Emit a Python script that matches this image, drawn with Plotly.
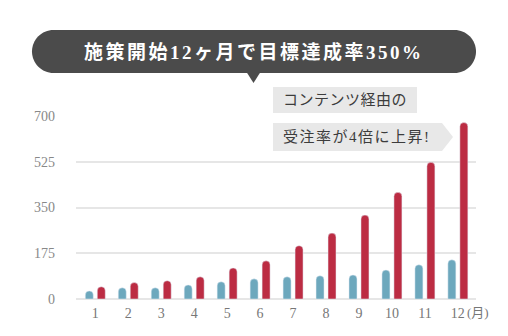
import plotly.graph_objects as go

# Monthly orders: all channels (blue) vs. via content (red)
months = [1, 2, 3, 4, 5, 6, 7, 8, 9, 10, 11, 12]
month_labels = ["1", "2", "3", "4", "5", "6", "7", "8", "9", "10", "11", "12"]
other_orders = [31, 43, 43, 54, 66, 77, 85, 89, 92, 111, 131, 150]
content_orders = [47, 63, 70, 85, 119, 146, 204, 252, 321, 408, 523, 675]
y_ticks = [0, 175, 350, 525, 700]

title_text = "施策開始12ヶ月で目標達成率350%"
callout_line1 = "コンテンツ経由の"
callout_line2 = "受注率が4倍に上昇!"

W, H = 508, 336
L, R, T, B = 76, 32, 116, 37
PW, PH = W - L - R, H - T - B

SERIF = "Liberation Serif, DejaVu Serif, Noto Sans CJK JP, serif"


def fx(px):
    return (px - L) / PW


def fy(py):
    return (H - B - py) / PH


def path(points, close=True):
    parts = []
    for cmd, pts in points:
        coords = " ".join(f"{fx(x):.5f},{fy(y):.5f}" for x, y in pts)
        parts.append(f"{cmd} {coords}")
    return " ".join(parts) + (" Z" if close else "")


fig = go.Figure()
fig.add_trace(go.Bar(x=months, y=other_orders, marker_color="#6da8bd",
                     width=8 / 33, offset=-10 / 33, hoverinfo="skip"))
fig.add_trace(go.Bar(x=months, y=content_orders, marker_color="#bc2c43",
                     width=8 / 33, offset=2 / 33, hoverinfo="skip"))

shapes = []
# dark speech pill with pointer
x0, x1, y0, y1 = 32, 476, 30, 73
r = (y1 - y0) / 2
cy = (y0 + y1) / 2
k = 0.5523 * r
pill = path([
    ("M", [(x0 + r, y0)]),
    ("L", [(x1 - r, y0)]),
    ("C", [(x1 - r + k, y0), (x1, cy - k), (x1, cy)]),
    ("C", [(x1, cy + k), (x1 - r + k, y1), (x1 - r, y1)]),
    ("L", [(x0 + r, y1)]),
    ("C", [(x0 + r - k, y1), (x0, cy + k), (x0, cy)]),
    ("C", [(x0, cy - k), (x0 + r - k, y0), (x0 + r, y0)]),
])
shapes.append(dict(type="path", xref="paper", yref="paper", path=pill,
                   fillcolor="#4b4b4b", line=dict(width=0), layer="above"))
shapes.append(dict(type="path", xref="paper", yref="paper",
                   path=path([("M", [(246.5, 72)]), ("L", [(260.5, 72)]), ("L", [(253.5, 83)])]),
                   fillcolor="#4b4b4b", line=dict(width=0), layer="above"))
# light grey callout boxes
shapes.append(dict(type="path", xref="paper", yref="paper",
                   path=path([("M", [(273, 87)]), ("L", [(417, 87)]), ("L", [(417, 113)]), ("L", [(273, 113)])]),
                   fillcolor="#e8e8e8", line=dict(width=0), layer="above"))
shapes.append(dict(type="path", xref="paper", yref="paper",
                   path=path([("M", [(273, 123)]), ("L", [(442, 123)]), ("L", [(453, 137)]),
                              ("L", [(442, 151)]), ("L", [(273, 151)])]),
                   fillcolor="#e8e8e8", line=dict(width=0), layer="above"))

annotations = [
    dict(text=f'<span style="letter-spacing:2.5px"><b>{title_text}</b></span>',
         x=fx(254), y=fy(52), xref="paper", yref="paper",
         showarrow=False, xanchor="center", yanchor="middle",
         font=dict(family=SERIF, size=19, color="#ffffff")),
    dict(text=f'<span style="letter-spacing:0.5px">{callout_line1}</span>',
         x=fx(281), y=fy(100), xref="paper", yref="paper",
         showarrow=False, xanchor="left", yanchor="middle",
         font=dict(family=SERIF, size=15, color="#3c3c3c")),
    dict(text=f'<span style="letter-spacing:1.5px">{callout_line2}</span>',
         x=fx(281), y=fy(137), xref="paper", yref="paper",
         showarrow=False, xanchor="left", yanchor="middle",
         font=dict(family=SERIF, size=15, color="#3c3c3c")),
    dict(text="(月)", x=fx(465), y=fy(312), xref="paper", yref="paper",
         showarrow=False, xanchor="left", yanchor="middle",
         font=dict(family=SERIF, size=13, color="#777777")),
]

fig.update_layout(
    width=W, height=H,
    margin=dict(l=L, r=R, t=T, b=B, pad=0),
    paper_bgcolor="#ffffff", plot_bgcolor="#ffffff",
    showlegend=False,
    barcornerradius=4,
    shapes=shapes,
    annotations=annotations,
    xaxis=dict(
        range=[0.415, 12.55], tickvals=months, ticktext=month_labels,
        showgrid=False, zeroline=False, showline=False, ticks="",
        ticklabelstandoff=4,
        tickfont=dict(family=SERIF, size=14, color="#777777"),
        fixedrange=True,
    ),
    yaxis=dict(
        range=[0, 700], tickvals=y_ticks, showgrid=True,
        gridcolor="#e6e6e6", gridwidth=2,
        zeroline=True, zerolinecolor="#e6e6e6", zerolinewidth=2,
        showline=False, ticks="", ticklabelstandoff=20,
        tickfont=dict(family=SERIF, size=14, color="#888888"),
        fixedrange=True,
    ),
)

fig.write_html("out.html")
